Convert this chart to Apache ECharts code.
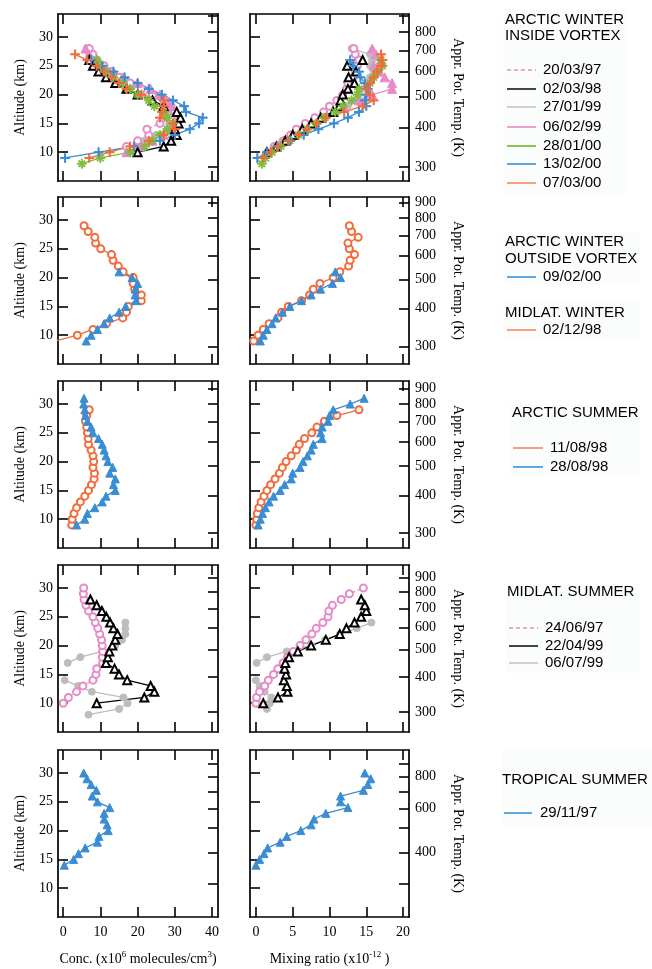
<!DOCTYPE html>
<html><head><meta charset="utf-8">
<script src="https://cdn.jsdelivr.net/npm/echarts@6/dist/echarts.min.js"></script>
<style>html,body{margin:0;padding:0;background:#fff}#c{width:652px;height:969px}</style>
</head><body><div id="c"></div>
<script>
// ---------- DATA ----------
// Row 1: Arctic winter inside vortex
const aw_200397_alt  = [11,12,13,14,15,16,17,18,19,20,21,22,23,24,25,26,27,28];
const aw_200397_conc = [17,20,23,22.5,26,29,30,29,27,24,21,18,15,13,11,9,8,7];
const aw_200397_mr   = [2.5,3.8,4.7,5.5,6.7,8,9.2,10,11,11.8,12.3,12.5,13.2,13.5,13.8,14,13.5,13.3];

const aw_020398_alt  = [10,11,12,13,14,15,16,17,18,19,20,21,22,23,24,25,26];
const aw_020398_conc = [20,27,29,30.5,30,31,31.5,30.5,27,24,20,17,14,11.5,9.5,8,7];
const aw_020398_mr   = [1.5,2.8,4,5,6.3,7.5,8.8,10.5,11.3,11.5,11.8,12.5,13.4,12.6,13.6,12.4,14.5];

const aw_270199_alt  = [10,11,12,13,14,15,16,17,18,19,20,21,22,23,24,25,26,27,28];
const aw_270199_conc = [19,21,22,25,28,28.5,29,29,27,24,21,17,14,12,10,9,8,7,6.3];
const aw_270199_mr   = [1.5,2.5,3.6,5,6.5,8,9.5,11,12.5,13.5,14,14.8,15,15.5,16,15.5,15.8,15.5,13];

const aw_060299_alt  = [10,11,12,13,14,15,16,17,18,19,20,21,22,23,24,25,26,27,28];
const aw_060299_conc = [17,21,24,27,29,30.5,31,30.5,29,28,26,23.5,20,16,12.5,10,8,7,6];
const aw_060299_mr   = [1.5,2.6,3.8,5,6.3,7.6,9,10.5,12,14,15.8,18.5,18.5,17.5,16.8,16,17,16.3,15.8];

const aw_280100_alt  = [8,9,10,11,12,13,14,15,16,17,18,19,20,21,22,23,24,25,26];
const aw_280100_conc = [5,10,18,22,24,26,28,29.5,28,27,24.5,23,20,18,16,13.5,11.5,10,9];
const aw_280100_mr   = [0.8,1.3,2.2,3.4,4.6,5.8,7,8.2,9.3,10.8,11.8,13,13.8,14,15.5,16,16.5,17.2,17];

const aw_130200_alt  = [9,10,11,12,13,14,15,16,17,18,19,20,21,22,23,24,25,26];
const aw_130200_conc = [0.5,9.5,19,26,30,34,36.5,37.5,33,32.5,29.5,26.5,23,20,16.5,13.5,10.5,7.5];
const aw_130200_mr   = [0.2,1.5,2.9,4.7,6.5,8.5,10.6,12.5,14,15,14.8,15,15.2,14.8,14.2,14,13.2,12.8];

const aw_070300_alt  = [9,10,11,12,13,14,15,16,17,18,19,20,21,22,23,24,25,26,27];
const aw_070300_conc = [7,12.5,18,23,27,30,29.5,26,26.5,27,27,21,17,15,13,11,9,6.5,3.2];
const aw_070300_mr   = [1,2,3,4.4,5.8,7,8.3,9.5,12,14.5,16,15.5,15,15.5,16,16.5,17,17.2,17];

// Row 2: Arctic winter outside vortex / Midlat. winter
const awo_090200_alt  = [9,10,11,12,13,14,15,16,17,18,19,20,21];
const awo_090200_conc = [6.2,7.5,9.2,11,12.5,15,16.8,19.6,19.3,19.4,20,18.5,15];
const awo_090200_mr   = [0.6,1,1.5,2.2,2.7,3.6,4.6,6.2,7.5,8.8,10.4,11.5,10.8];

const mw_021298_alt  = [9,10,11,12,13,14,15,16,17,18,19,20,21,22,23,24,25,26,27,28,29];
const mw_021298_conc = [-2,3.8,8,11.6,16,17,17.5,21,21,19.2,18.8,18.8,16.1,14.8,13.4,13,10.1,8.7,8.5,6.7,5.6];
const mw_021298_mr   = [-0.3,0.3,1,1.8,3,3.5,4.4,6.2,7.3,7.8,8.7,10.5,11.4,12.6,12.8,13.4,12.7,12.5,13.9,13,12.7];

// Row 3: Arctic summer
const as_110898_alt  = [9,10,11,12,13,14,15,16,17,18,19,20,21,22,23,24,25,26,27,28,29];
const as_110898_conc = [2.3,2.4,2.9,3.6,4.6,5.8,6.8,7.6,8.3,8.4,8,8.2,8,7.5,6.8,6.7,6.5,6.3,6,6.3,7];
const as_110898_mr   = [0,0.1,0.2,0.4,0.7,1.1,1.5,2,2.6,3.2,3.6,4.1,4.8,5.5,5.9,6.6,7.6,8.3,9.3,11,14];

const as_280898_alt  = [9,10,11,12,13,14,15,16,17,18,19,20,21,22,23,24,25,26,27,28,29,30,31];
const as_280898_conc = [3.6,5.8,6.5,8.5,10.5,11.5,14,13.5,14,12.5,13.3,12,11.5,11,10.5,9.5,8,7.5,6.5,6,5.8,5.5,5.6];
const as_280898_mr   = [0.3,0.6,0.9,1.3,1.8,2.4,3.3,3.9,4.8,5,6,6.4,7,7.5,7.8,9,8.8,9,9.8,10,10.5,12.8,14.7];

// Row 4: Midlat. summer
const ms_240697_alt  = [10,11,12,13,14,15,16,17,18,19,20,21,22,23,24,25,26,27,28,29,30];
const ms_240697_conc = [0,1.4,3.6,5.3,8,8.8,9,10.6,10.5,10.6,10.5,10.3,9.8,9.3,8.6,8,6.8,6.1,5.6,5.4,5.5];
const ms_240697_mr   = [0,0.1,0.5,1.2,1.7,2.4,3,3.7,4.3,5.1,6,6.8,7.6,8.2,9.1,9.8,9.9,10.4,11.6,12.7,14.6];

const ms_220499_alt  = [10,11,12,13,14,15,16,17,18,19,20,21,22,23,24,25,26,27,28];
const ms_220499_conc = [9,21.8,24.5,23.5,17.2,15,13.8,11.5,12,12.4,13.2,14,14.6,13.5,12.6,11.6,10.4,9,7.3];
const ms_220499_mr   = [1,3,4.3,4.2,3.8,4.1,3.9,4,4.5,5.7,7.5,9.5,11.4,12.3,13.4,14.3,15,14.8,14.3];

const ms_060799_alt  = [8,9,10,11,12,13,14,15,16,17,18,19,20,21,22,23,24];
const ms_060799_conc = [6.8,15,17.3,16.2,7.7,4,0.4,null,null,1.2,4.6,10.5,14,15.8,16.7,16.7,16.7];
const ms_060799_mr   = [null,1.5,1.9,2.1,1.2,0.5,0,null,null,0.1,1.5,4.2,7.5,9.4,11.4,13.7,15.7];

// Row 5: Tropical summer
const ts_291197_alt  = [14,15,16,17,18,19,20,21,22,23,24,25,26,27,28,29,30];
const ts_291197_conc = [0.3,2.8,4.1,5.9,9.2,9.6,12.1,11.8,11,11,12.5,9.2,7.8,8.9,7.5,6.4,5.5];
const ts_291197_mr   = [0,0.5,1.1,1.6,3.3,4.2,6.1,7.5,7.9,9.5,12.5,11.5,11.5,14.6,15.2,15.6,14.8];

// Axis ticks
const altTicks = [10,15,20,25,30];
const concTicks = [0,10,20,30,40];
const mrTicks = [0,5,10,15,20];
const thetaTicks = [300,400,500,600,700,800,900];
const thetaLabels = [[300,400,500,600,700,800],[300,400,500,600,700,800,900],[300,400,500,600,700,800,900],[300,400,500,600,700,800,900],[400,600,800]];
// approximate potential-temperature extent of each row's panels (bottom, top)
const thetaRange = [[271,912],[262,940],[268,953],[255,998],[222,1022]];

// Legend texts
const legendGroups = [
  {head:['ARCTIC WINTER','INSIDE VORTEX'], items:['20/03/97','02/03/98','27/01/99','06/02/99','28/01/00','13/02/00','07/03/00']},
  {head:['ARCTIC WINTER','OUTSIDE VORTEX'], items:['09/02/00']},
  {head:['MIDLAT. WINTER'], items:['02/12/98']},
  {head:['ARCTIC SUMMER'], items:['11/08/98','28/08/98']},
  {head:['MIDLAT. SUMMER'], items:['24/06/97','22/04/99','06/07/99']},
  {head:['TROPICAL SUMMER'], items:['29/11/97']}
];

// ---------- STYLES ----------
const COL = {blue:'#3a8dd3', orange:'#f26b3b', pink:'#e68bc8', green:'#7fbd3d', gray:'#bdbdbd', black:'#000000'};
const PLUS = 'path://M0,4.4h10v1.2h-10z M4.4,0h1.2v10h-1.2z';
const STAR = 'path://M0,4.4h10v1.2h-10z M4.4,0h1.2v10h-1.2z M1.2,2.0L2.0,1.2L8.8,8.0L8.0,8.8z M8.0,1.2L8.8,2.0L2.0,8.8L1.2,8.0z';
const ST = {
  pinkDashCirc: {color:COL.pink, symbol:'emptyCircle', size:7, dash:'dashed'},
  blackTri: {color:COL.black, symbol:'emptyTriangle', size:8},
  grayDot: {color:COL.gray, symbol:'circle', size:7},
  pinkTri: {color:COL.pink, symbol:'triangle', size:9},
  greenStar: {color:COL.green, symbol:STAR, size:9},
  bluePlus: {color:COL.blue, symbol:PLUS, size:9},
  orangePlus: {color:COL.orange, symbol:PLUS, size:9},
  orangeCirc: {color:COL.orange, symbol:'emptyCircle', size:7},
  blueTri: {color:COL.blue, symbol:'triangle', size:8}
};

const rowTops = [14,197,381,565,750];
const SERIF = 'Liberation Serif, Times New Roman, serif';
const SANS = 'Liberation Sans, Arial, Helvetica, sans-serif';

const grids=[], xAxes=[], yAxes=[], series=[];
for (let r=0;r<5;r++){
  for (let c=0;c<2;c++){
    const g = r*2+c;
    grids.push({left: c?250:58, top: rowTops[r], width: c?159:160, height:167});
    const xmin = c? -0.8 : -1.4, xmax = c? 20.8 : 41.6;
    const xt = c? mrTicks : concTicks;
    const line = {show:true, onZero:false, lineStyle:{color:'#000', width:1.7}};
    const tick = {show:true, inside:true, length:10, customValues:xt, lineStyle:{color:'#000', width:1.6}};
    xAxes.push({gridIndex:g, type:'value', position:'bottom', min:xmin, max:xmax,
      axisLine:line, axisTick:tick, splitLine:{show:false},
      axisLabel:{show:r===4, customValues:xt, margin:8, color:'#000', fontFamily:SERIF, fontSize:14},
      name: r===4 ? (c ? 'Mixing ratio (x10{s|-12} )' : 'Conc. (x10{s|6} molecules/cm{s|3})') : '',
      nameLocation:'middle', nameGap:33,
      nameTextStyle:{color:'#000', fontFamily:SERIF, fontSize:14, rich:{s:{fontFamily:SERIF, fontSize:9, padding:[0,0,9,0]}}}
    });
    xAxes.push({gridIndex:g, type:'value', position:'top', min:xmin, max:xmax,
      axisLine:line, axisTick:tick, splitLine:{show:false}, axisLabel:{show:false}});
    yAxes.push({gridIndex:g, type:'value', position:'left', min:5, max:34,
      axisLine:line, axisTick:{show:true, inside:true, length:10, customValues:altTicks, lineStyle:{color:'#000', width:1.6}},
      splitLine:{show:false},
      axisLabel:{show:c===0, customValues:altTicks, margin:5, color:'#000', fontFamily:SERIF, fontSize:14},
      name: c===0 ? 'Altitude (km)' : '', nameLocation:'middle', nameRotate:90, nameGap:31,
      nameTextStyle:{color:'#000', fontFamily:SERIF, fontSize:14}
    });
    const tr = thetaRange[r];
    yAxes.push({gridIndex:g, type:'value', position:'right', min:Math.log(tr[0]), max:Math.log(tr[1]),
      axisLine:line, axisTick:{show:true, inside:true, length:10, customValues:thetaTicks.map(Math.log), lineStyle:{color:'#000', width:1.6}},
      splitLine:{show:false},
      axisLabel:{show:c===1, customValues:thetaLabels[r].map(Math.log), margin:6, color:'#000', fontFamily:SERIF, fontSize:14,
        formatter:v=>String(Math.round(Math.exp(v)))},
      name: c===1 ? 'Appr. Pot. Temp. (K)' : '', nameLocation:'middle', nameRotate:-90, nameGap:42,
      nameTextStyle:{color:'#000', fontFamily:SERIF, fontSize:14}
    });
  }
}

function addSeries(g, alts, vals, st){
  series.push({
    type:'line', xAxisIndex:2*g, yAxisIndex:2*g,
    data: alts.map((a,i)=> vals[i]==null ? ['-', a] : [vals[i], a]),
    connectNulls:false, animation:false, silent:true,
    symbol: st.symbol, symbolSize: st.size, showSymbol:true,
    lineStyle:{color:st.color, width:1.3, type: st.dash || 'solid'},
    itemStyle:{color:st.color, borderColor:st.color, borderWidth:1}
  });
}
function pair(r, alts, conc, mr, st){ addSeries(r*2, alts, conc, st); addSeries(r*2+1, alts, mr, st); }

pair(0, aw_270199_alt, aw_270199_conc, aw_270199_mr, ST.grayDot);
pair(0, aw_200397_alt, aw_200397_conc, aw_200397_mr, ST.pinkDashCirc);
pair(0, aw_060299_alt, aw_060299_conc, aw_060299_mr, ST.pinkTri);
pair(0, aw_020398_alt, aw_020398_conc, aw_020398_mr, ST.blackTri);
pair(0, aw_280100_alt, aw_280100_conc, aw_280100_mr, ST.greenStar);
pair(0, aw_130200_alt, aw_130200_conc, aw_130200_mr, ST.bluePlus);
pair(0, aw_070300_alt, aw_070300_conc, aw_070300_mr, ST.orangePlus);

pair(1, mw_021298_alt, mw_021298_conc, mw_021298_mr, ST.orangeCirc);
pair(1, awo_090200_alt, awo_090200_conc, awo_090200_mr, ST.blueTri);

pair(2, as_110898_alt, as_110898_conc, as_110898_mr, ST.orangeCirc);
pair(2, as_280898_alt, as_280898_conc, as_280898_mr, ST.blueTri);

pair(3, ms_060799_alt, ms_060799_conc, ms_060799_mr, ST.grayDot);
pair(3, ms_240697_alt, ms_240697_conc, ms_240697_mr, ST.pinkDashCirc);
pair(3, ms_220499_alt, ms_220499_conc, ms_220499_mr, ST.blackTri);

pair(4, ts_291197_alt, ts_291197_conc, ts_291197_mr, ST.blueTri);

// ---------- LEGEND (graphic) ----------
const LC = {pinkD:'#f2a6d6', black:'#444', gray:'#cfcfcf', pink:'#eea0d4', green:'#8cc450', blue:'#5aa9e2', orange:'#f7a081'};
const legendLayout = [
  {bg:[503,10,124,184], heads:[[505,20],[505,36]], lx:[507,536], tx:543, ys:[70,89,107,127,146,164,183],
   cols:[[LC.pinkD,true],[LC.black],[LC.gray],[LC.pink],[LC.green],[LC.blue],[LC.orange]]},
  {bg:[503,233,137,52], heads:[[505,242],[505,259]], lx:[507,536], tx:543, ys:[277], cols:[[LC.blue]]},
  {bg:[503,300,137,40], heads:[[505,313]], lx:[507,536], tx:543, ys:[330], cols:[[LC.orange]]},
  {bg:[510,404,130,73], heads:[[512,413]], lx:[513,543], tx:550, ys:[448,467], cols:[[LC.orange],[LC.blue]]},
  {bg:[506,584,134,89], heads:[[507,592]], lx:[509,538], tx:545, ys:[628,646,663], cols:[[LC.pinkD,true],[LC.black],[LC.gray]]},
  {bg:[502,750,150,76], heads:[[502,780]], lx:[504,532], tx:540, ys:[813], cols:[[LC.blue]]}
];
const graphics = [];
legendLayout.forEach((L,i)=>{
  const grp = legendGroups[i];
  graphics.push({type:'rect', shape:{x:L.bg[0], y:L.bg[1], width:L.bg[2], height:L.bg[3]}, style:{fill:'#fbfcfc'}, z:-1, silent:true});
  grp.head.forEach((h,j)=>{
    graphics.push({type:'text', x:L.heads[j][0], y:L.heads[j][1], style:{text:h, fill:'#000', font:'15px '+SANS, textVerticalAlign:'middle'}, silent:true});
  });
  grp.items.forEach((t,j)=>{
    const y = L.ys[j];
    graphics.push({type:'line', shape:{x1:L.lx[0], y1:y, x2:L.lx[1], y2:y}, style:{stroke:L.cols[j][0], lineWidth:2, lineDash:L.cols[j][1]?[4,3]:null}, silent:true});
    graphics.push({type:'text', x:L.tx, y:y, style:{text:t, fill:'#000', font:'15px '+SANS, textVerticalAlign:'middle'}, silent:true});
  });
});

const chart = echarts.init(document.getElementById('c'), null, {renderer:'canvas'});
chart.setOption({
  animation:false,
  backgroundColor:'#ffffff',
  grid:grids, xAxis:xAxes, yAxis:yAxes, series:series, graphic:graphics
});
</script></body></html>
